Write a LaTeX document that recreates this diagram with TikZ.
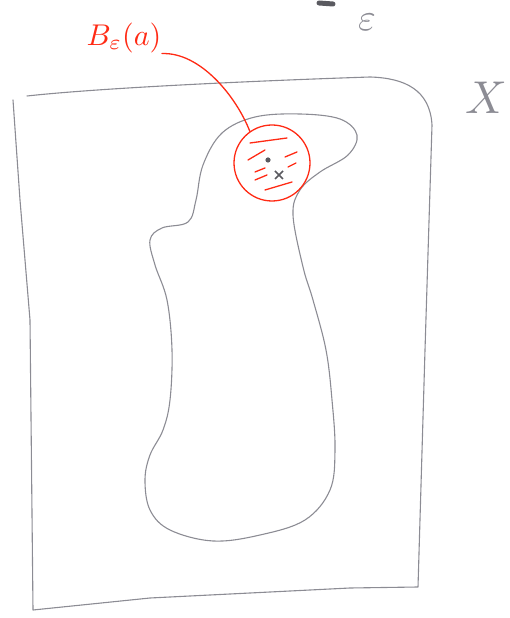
\documentclass[tikz,border=0pt]{standalone}
\usepackage{xcolor}
\usepackage{tikz}
\definecolor{pencilGrey}{HTML}{8C8C94}
\definecolor{pencilDark}{HTML}{5A5A60}
\definecolor{ballRed}{HTML}{FF2A14}

\begin{document}
\begin{tikzpicture}[x=1pt, y=1pt,
    pencil/.style={pencilGrey, line width=1.1pt, line cap=round, line join=round},
    redPen/.style={ballRed, line width=1.3pt, line cap=round, line join=round}]
  \useasboundingbox (0,0) rectangle (509,618);

  % Space X
  \draw[pencil] (27,522) .. controls (100,530) and (250,537) .. (370,541)
    .. controls (405,540) and (430,528) .. (432,493) -- (425,268) -- (418,31)
    -- (350,30) -- (150,20) -- (33,8) -- (30,298) -- (20,418) -- (13,518);
  \node[pencilGrey, scale=4.6, inner sep=0pt] (spaceLabel) at (486,520) {$X$};

  % Open set
  \draw[pencil] plot[smooth cycle, tension=0.6] coordinates {
    (150,378) (162,390) (188,396) (196,418) (203,453) (222,485) (255,501)
    (300,504) (340,499) (357,483) (348,463) (320,446) (300,428) (293,403)
    (303,351) (313,318) (326,268) (332,218) (335,168) (330,128) (305,98)
    (260,83) (213,77) (170,88) (150,108) (145,138) (150,163) (163,188)
    (170,218) (172,268) (167,318) (155,353)};

  % Ball around a
  \node[draw=ballRed, line width=1.3pt, circle, minimum size=76pt] (ball) at (272,455) {};
  \draw[redPen] (250,475) -- (287,480);
  \draw[redPen] (248,458) -- (265,468);
  \draw[redPen] (255,446) -- (265,450);
  \draw[redPen] (255,438) -- (267,443);
  \draw[redPen] (285,461) -- (297,466);
  \draw[redPen] (288,451) -- (296,455);
  \draw[redPen] (265,428) -- (292,436);
  \fill[pencilDark] (268,458) circle (2.6pt);
  \draw[pencilDark, line width=1.6pt] (275,439) -- (283,447) (275,447) -- (283,439);

  % Label and leader
  \node[ballRed, scale=3, inner sep=0pt] (ballLabel) at (124,580) {$B_\varepsilon(a)$};
  \draw[redPen] (ballLabel.south east) .. controls (200,566) and (236,522) .. (ball.125);

  % Top margin
  \node[pencilGrey, scale=3.8, inner sep=0pt] (epsLabel) at (367,596) {$\varepsilon$};
  \draw[pencilDark, line width=5pt, line cap=round] (319,615) -- (333,614);
\end{tikzpicture}
\end{document}
